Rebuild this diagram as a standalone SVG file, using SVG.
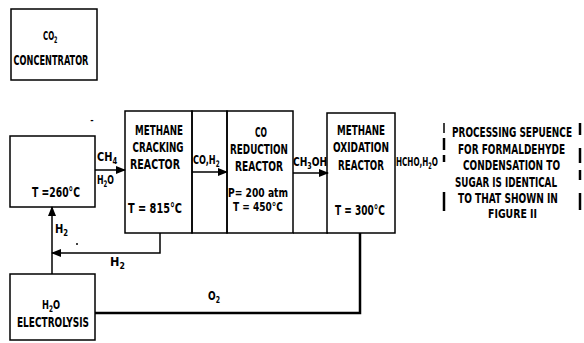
<svg xmlns="http://www.w3.org/2000/svg" width="584" height="343" viewBox="0 0 584 343">
<style>
.box{fill:none;stroke:#000;stroke-width:1.5}
.ln{fill:none;stroke:#000;stroke-width:1.5}
.thk{fill:none;stroke:#000;stroke-width:2.5}
.bar{stroke:#000;stroke-width:2.5}
text{font-family:"DejaVu Sans Condensed","Liberation Sans",sans-serif;font-weight:bold;font-size:14px;fill:#000;text-anchor:middle}
.l{text-anchor:start;font-size:13px}
.s{font-size:9px}
.n{text-anchor:start}
</style>
<defs>
<marker id="ah" markerWidth="10" markerHeight="8" refX="9" refY="4" orient="auto" markerUnits="userSpaceOnUse">
<path d="M0,0 L10,4 L0,8 z" fill="#000"/>
</marker>
</defs>
<rect width="584" height="343" fill="#fff"/>
<g id="co2-concentrator">
<rect class="box" x="11" y="9" width="86" height="71"/>
<text class="l" transform="translate(43,40) scale(0.6,1)">CO<tspan class="s" dy="3">2</tspan></text>
<text transform="translate(51,65) scale(0.64,1)" textLength="117" lengthAdjust="spacingAndGlyphs">CONCENTRATOR</text>
</g>
<g id="left-box">
<rect class="box" x="10" y="136" width="85" height="71"/>
<text transform="translate(56,197) scale(0.64,1)" textLength="75" lengthAdjust="spacingAndGlyphs">T =260°C</text>
</g>
<text x="92" y="123" style="font-size:9px">-</text>
<g id="cracking-reactor">
<rect class="box" x="125" y="111" width="67" height="122"/>
<text transform="translate(159,135) scale(0.64,1)" textLength="75" lengthAdjust="spacingAndGlyphs">METHANE</text>
<text transform="translate(158,152) scale(0.64,1)" textLength="79.7" lengthAdjust="spacingAndGlyphs">CRACKING</text>
<text transform="translate(155,168.5) scale(0.64,1)" textLength="78" lengthAdjust="spacingAndGlyphs">REACTOR</text>
<text transform="translate(155,213) scale(0.64,1)" textLength="84.4" lengthAdjust="spacingAndGlyphs">T = 815°C</text>
</g>
<g id="co-h2-link">
<rect class="box" x="192" y="111" width="35" height="122"/>
</g>
<g id="co-reduction-reactor">
<rect class="box" x="227" y="111" width="66" height="122"/>
<text transform="translate(261,137) scale(0.64,1)" textLength="18.8" lengthAdjust="spacingAndGlyphs">CO</text>
<text transform="translate(259,154) scale(0.64,1)" textLength="90.6" lengthAdjust="spacingAndGlyphs">REDUCTION</text>
<text transform="translate(259,170.5) scale(0.64,1)" textLength="75" lengthAdjust="spacingAndGlyphs">REACTOR</text>
<text transform="translate(258,197) scale(0.64,1)" textLength="93.7" lengthAdjust="spacingAndGlyphs" style="font-size:12px">P= 200 atm</text>
<text transform="translate(258,211) scale(0.64,1)" textLength="78" lengthAdjust="spacingAndGlyphs" style="font-size:12px">T = 450°C</text>
</g>
<g id="ch3oh-link">
<path class="ln" d="M293,233 H328"/>
</g>
<g id="oxidation-reactor">
<rect class="box" x="327" y="113" width="68" height="120"/>
<text transform="translate(361,135) scale(0.64,1)" textLength="75" lengthAdjust="spacingAndGlyphs">METHANE</text>
<text transform="translate(361,152) scale(0.64,1)" textLength="87.5" lengthAdjust="spacingAndGlyphs">OXIDATION</text>
<text transform="translate(361,170) scale(0.64,1)" textLength="71.9" lengthAdjust="spacingAndGlyphs">REACTOR</text>
<text transform="translate(360,215) scale(0.64,1)" textLength="78" lengthAdjust="spacingAndGlyphs">T = 300°C</text>
</g>
<g id="electrolysis">
<rect class="box" x="10" y="274" width="85" height="66"/>
<text class="l" transform="translate(42,309) scale(0.71,1)">H<tspan class="s" dy="3">2</tspan><tspan dy="-3">O</tspan></text>
<text transform="translate(53,327) scale(0.64,1)" textLength="112.5" lengthAdjust="spacingAndGlyphs">ELECTROLYSIS</text>
</g>
<g id="note">
<text class="n" transform="translate(452,137) scale(0.64,1)" textLength="187.5" lengthAdjust="spacingAndGlyphs">PROCESSING SEPUENCE</text>
<text class="n" transform="translate(458,153.5) scale(0.64,1)" textLength="167.2" lengthAdjust="spacingAndGlyphs">FOR FORMALDEHYDE</text>
<text class="n" transform="translate(463,170) scale(0.64,1)" textLength="151.6" lengthAdjust="spacingAndGlyphs">CONDENSATION TO</text>
<text class="n" transform="translate(455,187) scale(0.64,1)" textLength="159.4" lengthAdjust="spacingAndGlyphs">SUGAR IS IDENTICAL</text>
<text class="n" transform="translate(458,203) scale(0.64,1)" textLength="156.2" lengthAdjust="spacingAndGlyphs">TO THAT SHOWN IN</text>
<text class="n" transform="translate(488,217.5) scale(0.64,1)" textLength="76.6" lengthAdjust="spacingAndGlyphs" style="font-size:12px">FIGURE II</text>
<line class="bar" x1="444" y1="123" x2="444" y2="133" style="stroke-width:1.5"/>
<line class="bar" x1="444" y1="138" x2="444" y2="150"/>
<line class="bar" x1="444" y1="155" x2="444" y2="162"/>
<line class="bar" x1="444" y1="192" x2="444" y2="211"/>
<line class="bar" x1="580" y1="123" x2="580" y2="135"/>
<line class="bar" x1="580" y1="148" x2="580" y2="163"/>
<line class="bar" x1="580" y1="170" x2="580" y2="180"/>
<line class="bar" x1="580" y1="193" x2="580" y2="210"/>
</g>
<g id="connectors">
<path class="ln" d="M95,170 H125" marker-end="url(#ah)"/>
<text class="l" transform="translate(97,161) scale(0.84,1)">CH<tspan class="s" dy="3">4</tspan></text>
<text class="l" transform="translate(97,184) scale(0.67,1)">H<tspan class="s" dy="3">2</tspan><tspan dy="-3">O</tspan></text>
<path class="ln" d="M192,172 H227" marker-end="url(#ah)"/>
<text class="l" transform="translate(193,164) scale(0.7,1)">CO,H<tspan class="s" dy="3">2</tspan></text>
<path class="ln" d="M293,173 H328" marker-end="url(#ah)"/>
<text class="l" transform="translate(293,166) scale(0.78,1)">CH<tspan class="s" dy="3">3</tspan><tspan dy="-3">OH</tspan></text>
<text class="l" transform="translate(396,166) scale(0.62,1)">HCHO,H<tspan class="s" dy="3">2</tspan><tspan dy="-3">O</tspan></text>
<path class="ln" d="M160,233 V253 H52" marker-end="url(#ah)"/>
<text class="l" transform="translate(110,266) scale(0.96,1)">H<tspan class="s" dy="3">2</tspan></text>
<path class="ln" d="M52,274 V207" marker-end="url(#ah)"/>
<text class="l" transform="translate(55,233) scale(0.85,1)">H<tspan class="s" dy="3">2</tspan></text>
<circle cx="77" cy="244" r="1" fill="#000"/>
<path class="thk" d="M95,313 H360 V233"/>
<text class="l" transform="translate(208,300) scale(0.77,1)">O<tspan class="s" dy="3">2</tspan></text>
</g>
</svg>
